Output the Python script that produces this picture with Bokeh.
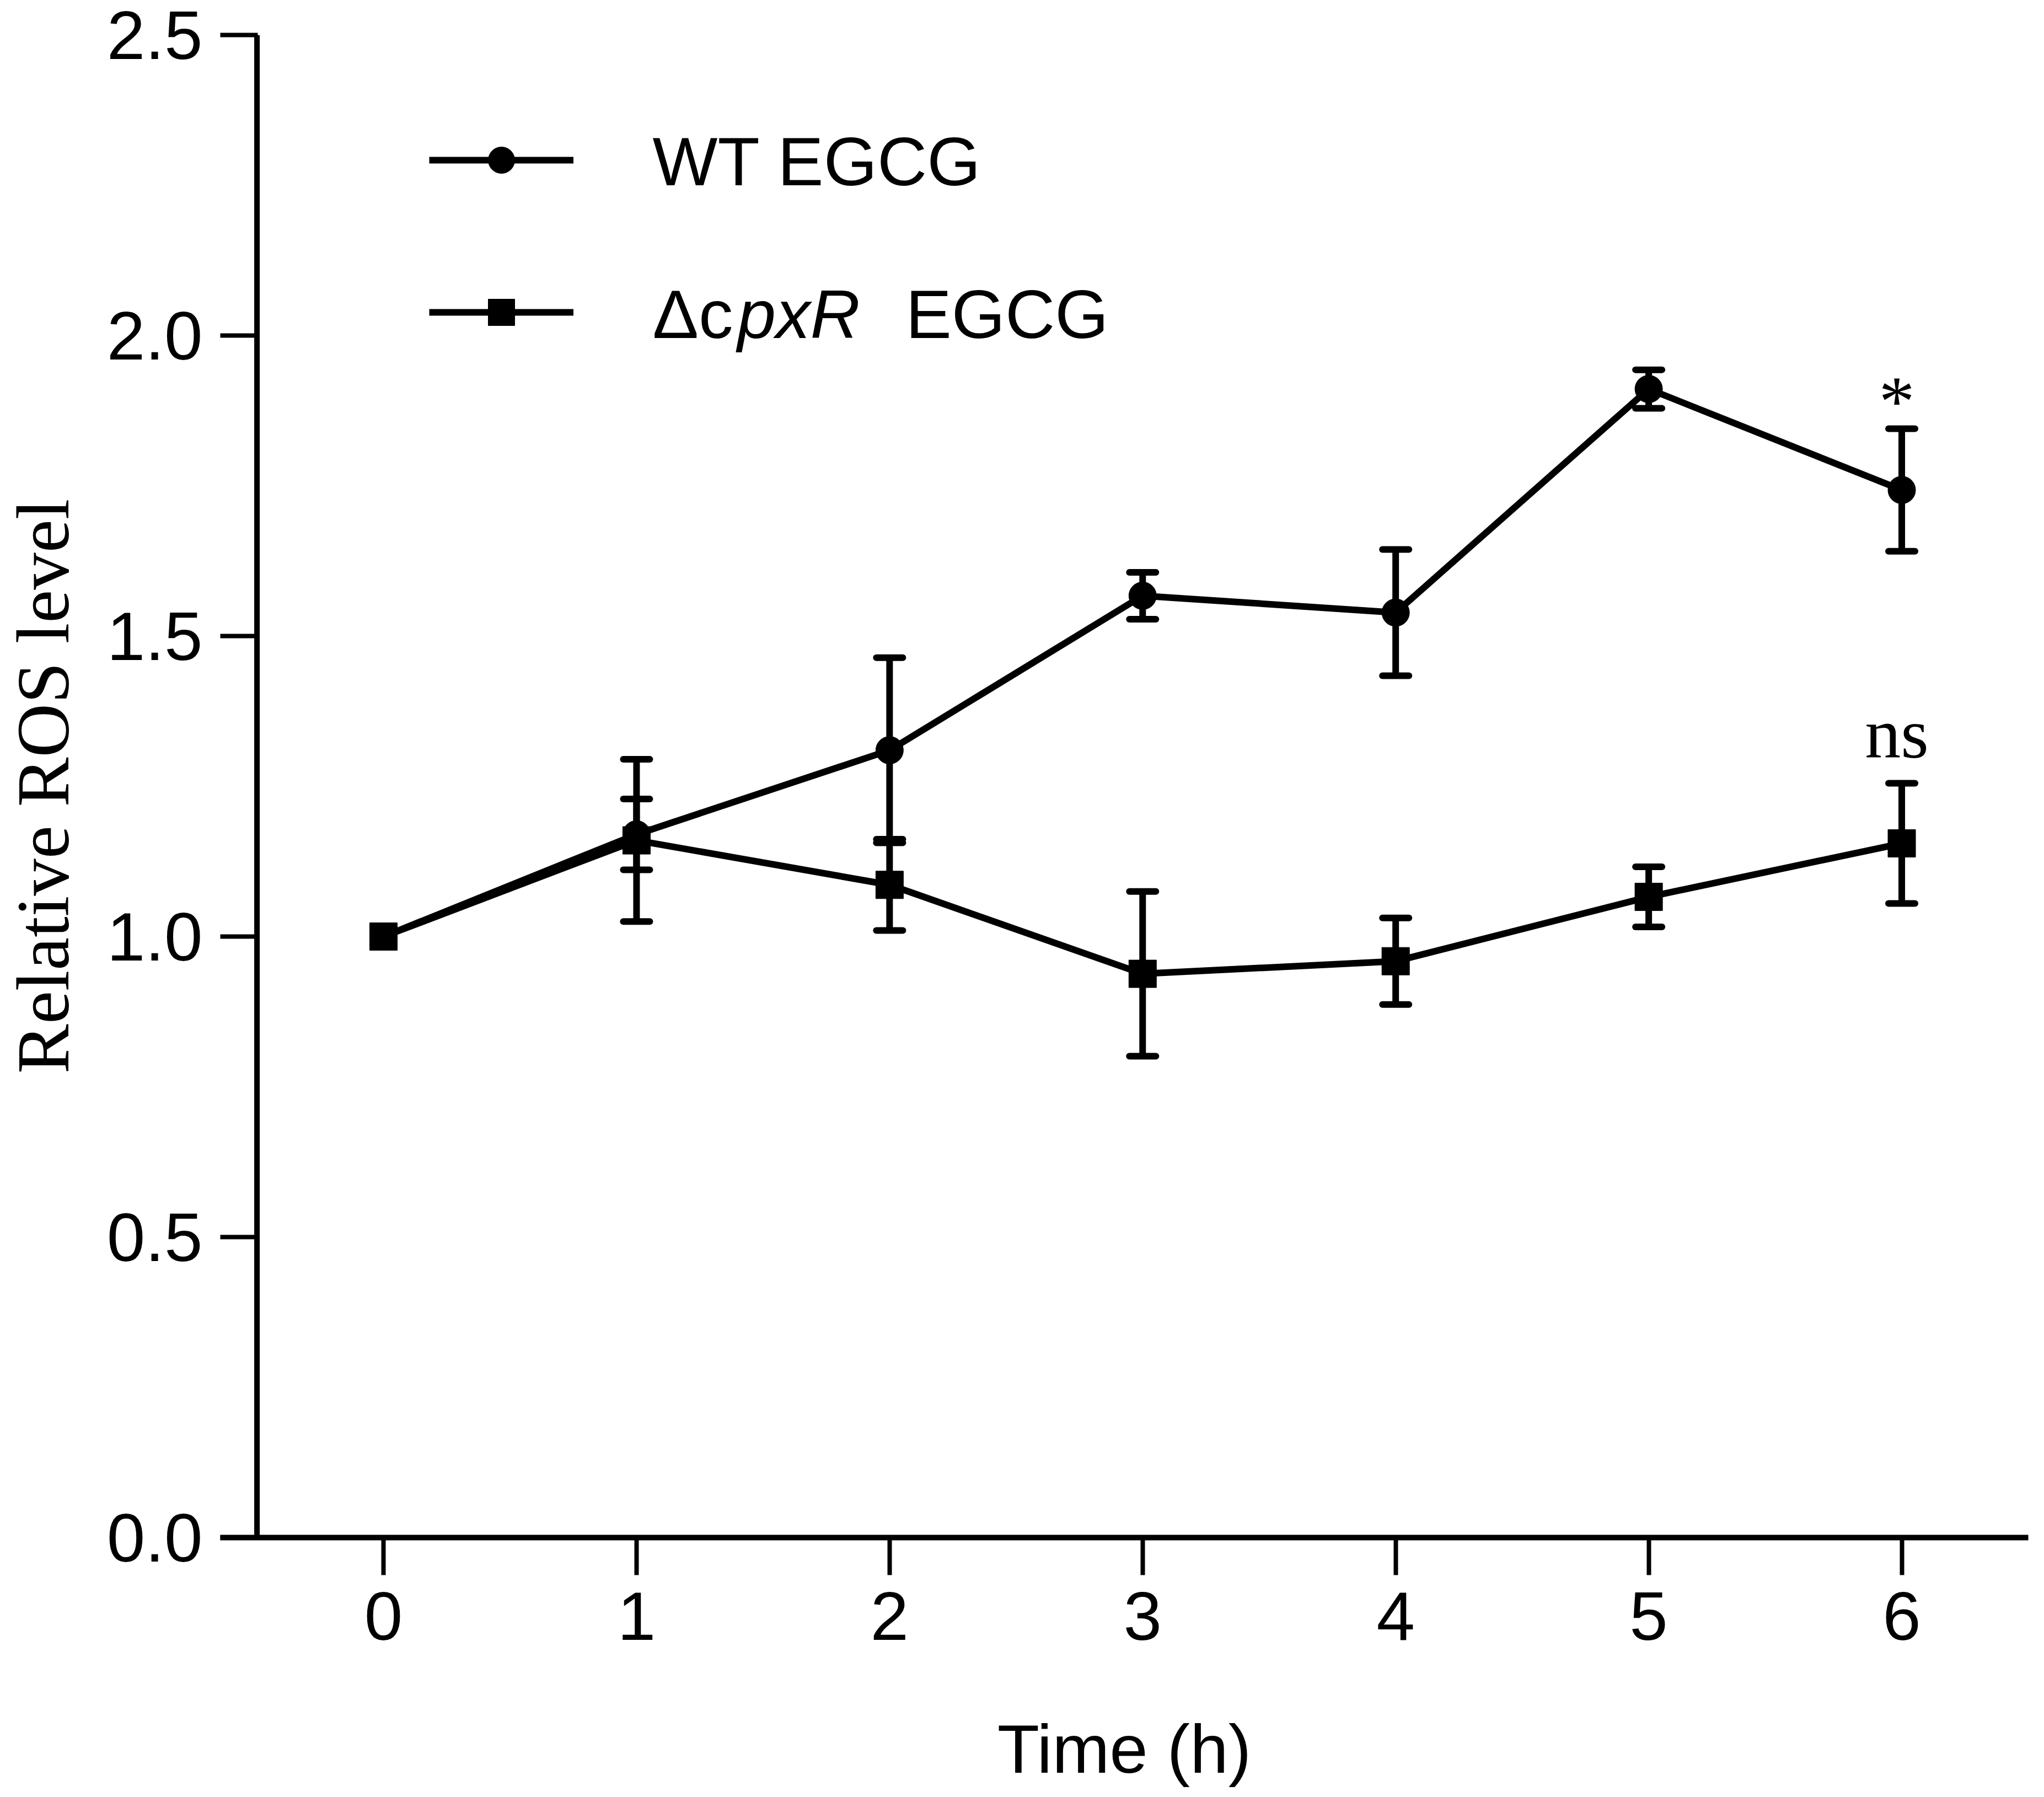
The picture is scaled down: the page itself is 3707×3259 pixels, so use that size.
from bokeh.plotting import figure
from bokeh.models import (Range1d, FixedTicker, PrintfTickFormatter, Whisker, TeeHead,
                          ColumnDataSource, Legend, LegendItem, Label, Span)
from bokeh.core.properties import value
from bokeh.embed import file_html
from bokeh.resources import INLINE

# ---- data ----
time_h = [0, 1, 2, 3, 4, 5, 6]
wt_mean = [1.000, 1.170, 1.310, 1.567, 1.539, 1.911, 1.743]
wt_err = [0.0, 0.059, 0.154, 0.039, 0.105, 0.032, 0.102]
cpx_mean = [1.000, 1.160, 1.086, 0.938, 0.959, 1.066, 1.155]
cpx_err = [0.0, 0.135, 0.076, 0.137, 0.072, 0.050, 0.100]
x_ticks = [0, 1, 2, 3, 4, 5, 6]
y_ticks = [0.0, 0.5, 1.0, 1.5, 2.0, 2.5]
legend_labels = ["WT EGCG", "ΔcpxR EGCG"]
sig_labels = ["*", "ns"]
sig_y = [1.891, 1.338]

SANS = "Liberation Sans"
SERIF = "Liberation Serif"

p = figure(width=3691, height=3243, output_backend="svg", toolbar_location=None,
           x_range=Range1d(-0.645, 6.5), y_range=Range1d(0, 2.5),
           min_border_left=394, min_border_right=13, min_border_top=63, min_border_bottom=452)
p.outline_line_color = None
p.grid.visible = False
p.background_fill_color = "white"

# axes
for ax in (p.xaxis[0], p.yaxis[0]):
    ax.axis_line_width = 10
    ax.axis_line_color = "black"
    ax.major_tick_line_width = 8
    ax.major_tick_line_color = "black"
    ax.minor_tick_line_color = None
    ax.major_label_text_font = SANS
    ax.major_label_text_font_size = "125px"
    ax.major_label_text_color = "black"
    ax.axis_label_text_font_style = "normal"
    ax.axis_label_text_color = "black"

p.xaxis.ticker = FixedTicker(ticks=x_ticks)
p.xaxis.formatter = PrintfTickFormatter(format="%d")
p.xaxis.major_tick_in = 0
p.xaxis.major_tick_out = 68
p.xaxis.major_label_standoff = 31
p.xaxis.axis_label = "Time (h)"
p.xaxis.axis_label_text_font = SANS
p.xaxis.axis_label_text_font_size = "125px"
p.xaxis.axis_label_standoff = 125

# the y axis sits at x = -0.5; its ticks run from the frame edge to it
p.yaxis.ticker = FixedTicker(ticks=y_ticks)
p.yaxis.formatter = PrintfTickFormatter(format="%.1f")
p.yaxis.axis_line_color = None
p.yaxis.major_tick_in = 68
p.yaxis.major_tick_out = 0
p.yaxis.major_label_standoff = 32
p.yaxis.axis_label = "Relative ROS level"
p.yaxis.axis_label_text_font = SERIF
p.yaxis.axis_label_text_font_size = "135px"
p.yaxis.axis_label_standoff = 38
p.add_layout(Span(location=-0.5, dimension="height", line_width=10, line_color="black"))

# series
wt_line = p.line(time_h, wt_mean, line_width=12, line_color="black")
wt_sc = p.scatter(time_h, wt_mean, marker="circle", size=50, fill_color="black", line_color="black")
cpx_line = p.line(time_h, cpx_mean, line_width=12, line_color="black")
cpx_sc = p.scatter(time_h, cpx_mean, marker="square", size=50, fill_color="black", line_color="black")

def add_err(means, errs):
    xs = [t for t, e in zip(time_h, errs) if e > 0]
    up = [m + e for m, e in zip(means, errs) if e > 0]
    lo = [m - e for m, e in zip(means, errs) if e > 0]
    src = ColumnDataSource(dict(x=xs, upper=up, lower=lo))
    w = Whisker(source=src, base="x", upper="upper", lower="lower", dimension="height",
                line_width=12, line_color="black",
                upper_head=TeeHead(size=48, line_width=12, line_color="black", line_cap="round"),
                lower_head=TeeHead(size=48, line_width=12, line_color="black", line_cap="round"))
    p.add_layout(w)

add_err(wt_mean, wt_err)
add_err(cpx_mean, cpx_err)

# legend glyphs (text drawn separately to allow the italic gene name)
legend = Legend(items=[LegendItem(label=value(" "), renderers=[wt_line, wt_sc]),
                       LegendItem(label=value(" "), renderers=[cpx_line, cpx_sc])],
                location=(379, 2162), glyph_width=262, glyph_height=120, spacing=156,
                padding=0, margin=0, border_line_alpha=0, background_fill_alpha=0,
                label_text_font_size="1px", label_standoff=0, label_width=0, label_height=0)
p.add_layout(legend)

def lab(x, y, text, font=SANS, size="125px", style="normal", units="screen", align="left", xoff=0):
    p.add_layout(Label(x=x, y=y, x_units=units, y_units=units, text=text, text_font=font,
                       text_font_size=size, text_font_style=style, text_color="black",
                       text_baseline="alphabetic", text_align=align, x_offset=xoff))

lab(784, 2496, legend_labels[0])
lab(784, 2219, legend_labels[1][:2])
lab(938, 2219, legend_labels[1][2:5], style="italic")
lab(1243, 2219, legend_labels[1][6:])

for t, y in zip(sig_labels, sig_y):
    lab(time_h[-1], y, t, font=SERIF, size="130px", units="data", align="center", xoff=-9)

open("out.html", "w").write(file_html(p, INLINE))
